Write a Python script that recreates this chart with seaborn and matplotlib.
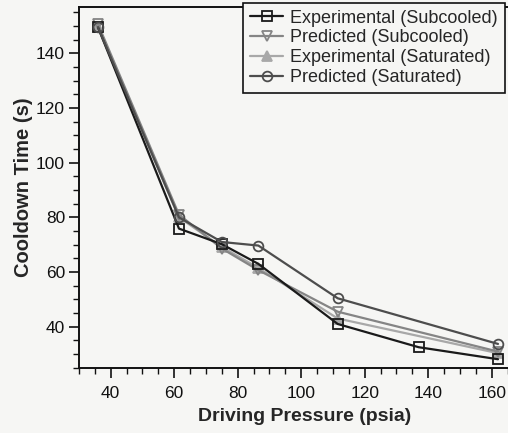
import matplotlib
matplotlib.use("Agg")
import matplotlib.pyplot as plt
import seaborn as sns
from matplotlib.ticker import MultipleLocator

# values
pressure_exp_sub = [36, 61.5, 75, 86.5, 111.5, 137, 162]
time_exp_sub = [149.5, 75.9, 70.2, 63.0, 41.0, 32.5, 28.1]

pressure_pred = [36, 61.5, 75, 86.5, 111.5, 162]
time_pred_sub = [150.7, 81.0, 68.6, 60.7, 45.5, 30.9]
time_exp_sat = [149.5, 80.0, 69.2, 61.5, 43.0, 30.3]
time_pred_sat = [149.5, 80.0, 71.0, 69.7, 50.4, 33.7]

labels = ["Experimental (Subcooled)", "Predicted (Subcooled)",
          "Experimental (Saturated)", "Predicted (Saturated)"]

sns.set_style("ticks")
plt.rcParams["font.family"] = ["Liberation Sans", "DejaVu Sans"]

paper = "#f6f6f4"
fig = plt.figure(figsize=(5.08, 4.33), dpi=100, facecolor=paper)
# the right edge of the original axes was cut off by the scan
ax = fig.add_axes([79 / 508, 65.3 / 433, 452 / 508, 360.7 / 433])
ax.set_facecolor(paper)

common = dict(linewidth=1.6, markersize=7, markeredgewidth=1.3, sort=False)
sns.lineplot(x=pressure_exp_sub, y=time_exp_sub, ax=ax, color="#1a1a1a",
             marker="s", markerfacecolor="none", markeredgecolor="#1a1a1a",
             zorder=4, **common)
sns.lineplot(x=pressure_pred, y=time_pred_sub, ax=ax, color="#858585",
             marker="v", markerfacecolor="none", markeredgecolor="#858585",
             zorder=3, **common)
sns.lineplot(x=pressure_pred, y=time_exp_sat, ax=ax, color="#a8a8a8",
             marker="^", markerfacecolor="#a8a8a8", markeredgecolor="#a8a8a8",
             zorder=2, **common)
sns.lineplot(x=pressure_pred, y=time_pred_sat, ax=ax, color="#4d4d4d",
             marker="o", markerfacecolor="none", markeredgecolor="#4d4d4d",
             zorder=5, **common)

ax.set_xlim(30, 172.4)
ax.set_ylim(25, 157)
ax.xaxis.set_major_locator(MultipleLocator(20))
ax.xaxis.set_minor_locator(MultipleLocator(5))
ax.yaxis.set_major_locator(MultipleLocator(20))
ax.yaxis.set_minor_locator(MultipleLocator(5))
ax.tick_params(which="major", length=7, width=1.2, labelsize=12.5, pad=3, colors="#111111")
ax.tick_params(which="minor", length=4, width=1.0, colors="#111111")
ax.tick_params(axis="x", which="major", pad=6)

for side in ["left", "bottom", "top"]:
    ax.spines[side].set_linewidth(1.4)
    ax.spines[side].set_color("#111111")
ax.spines["right"].set_visible(False)

ax.set_xlabel("Driving Pressure (psia)", fontsize=14, fontweight="bold", labelpad=5)
ax.set_ylabel("Cooldown Time (s)", fontsize=14.5, fontweight="bold", labelpad=2)

leg = ax.legend(ax.get_lines(), labels, loc="upper right",
                bbox_to_anchor=(505 / 508, 1 - 2.5 / 433),
                bbox_transform=fig.transFigure, fontsize=13,
                handlelength=1.8, handletextpad=0.4, labelspacing=0.15,
                borderpad=0.4, borderaxespad=0, fancybox=False, framealpha=1)
leg.get_frame().set_edgecolor("#111111")
leg.get_frame().set_linewidth(1.2)
leg.get_frame().set_facecolor(paper)

fig.savefig("out.png", dpi=100, facecolor=fig.get_facecolor())
